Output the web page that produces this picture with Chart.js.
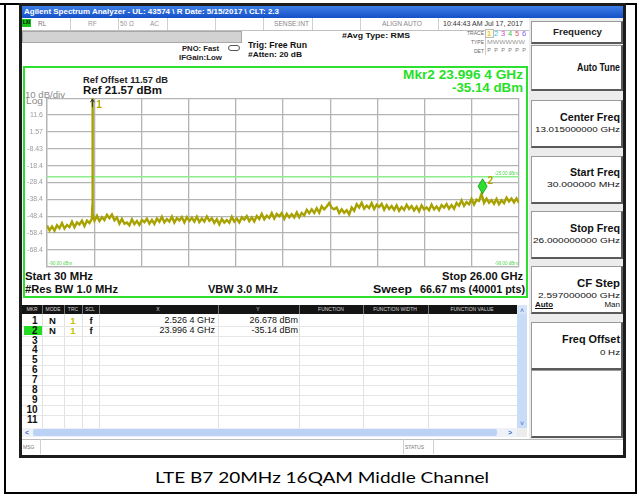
<!DOCTYPE html>
<html><head><meta charset="utf-8">
<script src="https://cdn.jsdelivr.net/npm/chart.js@4.4.1/dist/chart.umd.min.js"></script>
<style>
html,body{margin:0;padding:0;background:#fff;width:639px;height:496px;overflow:hidden;font-family:"Liberation Sans",Arial,sans-serif;position:relative;}
.a{position:absolute;box-sizing:border-box;}
.t{position:absolute;white-space:nowrap;}
#c{position:absolute;left:22px;top:90px;}
</style></head><body>
<script>
// ---------------- DATA ----------------
const startGHz = 0.03;
const stopGHz = 26.0;
const refLevelDbm = 21.57;
const dbPerDiv = 10;
const yTickLabels = ["", "11.6", "1.57", "-8.43", "-18.4", "-28.4", "-38.4", "-48.4", "-58.4", "-68.4", ""];
// trace levels (dBm), evenly spaced sweep points from start to stop
const traceLevels = [
-53.9,-56.8,-54.5,-57.0,-53.8,-55.6,-52.5,-55.8,-53.6,-54.9,-51.7,-55.0,-52.1,-53.3,-51.1,-54.3,-51.0,-52.5,-49.9,
-51.1,
-48.2,-51.3,-49.0,-50.7,-47.6,-49.6,-47.4,-50.8,-49.2,-52.8,-50.0,-52.9,-52.2,-53.8,-50.3,-53.1,-51.3,-53.6,-50.6,-52.0,
-49.9,-52.8,-50.6,-53.0,-49.8,-51.7,-48.8,-52.1,-50.1,-51.6,-48.7,-52.2,-49.6,-50.9,-48.9,-52.1,-49.0,-51.2,-49.4,-51.6,
-48.7,-51.9,-49.8,-51.6,-48.6,-51.2,-49.7,-52.4,-50.2,-53.3,-50.0,-52.2,-50.7,-52.3,-48.8,-51.6,-49.8,-52.1,-49.1,-50.5,
-48.4,-51.3,-49.1,-51.5,-48.3,-50.1,-47.0,-50.3,-48.1,-49.5,-46.5,-49.8,-47.1,-48.5,-46.6,-50.0,-47.0,-49.1,-47.2,-49.2,
-46.2,-49.1,-46.5,-48.0,-44.6,-46.6,-44.4,-46.5,-43.7,-46.3,-42.5,-44.4,-42.7,-40.6,-43.5,-44.3,-43.3,-46.5,-44.3,-46.4,
-44.9,-47.4,-43.3,-45.2,-41.3,-43.3,-40.5,-44.0,-42.1,-43.6,-40.7,-44.2,-41.6,-43.0,-41.1,-44.6,-41.8,-44.1,-42.4,-44.7,
-42.0,-45.2,-43.0,-44.7,-41.6,-44.1,-42.4,-45.0,-42.7,-45.5,-42.0,-44.4,-43.2,-44.9,-41.5,-44.4,-42.6,-44.8,-41.8,-43.3,
-41.2,-44.0,-41.8,-44.0,-40.6,-42.2,-39.0,-42.3,-40.1,-41.4,-38.2,-41.5,-38.6,-39.3,-35.1,-40.5,-38.0,-40.5,-38.9,-41.1,
-38.2,-41.3,-39.0,-40.6,-37.4,-39.7,-37.9,-40.3,-37.9,-40.5
];
// carrier (LTE B7 uplink) spike
const carrierFreqsGHz = [2.515, 2.5264, 2.540, 2.560];
const carrierLevels = [-46.0, 26.678, -37.5, -47.0];
const displayLineDbm = -25;
// markers
const markerNames = ["1", "2"];
const markerModes = ["N", "N"];
const markerTraces = ["1", "1"];
const markerScales = ["f", "f"];
const markerFreqsGHz = [2.5264, 23.9964];
const markerLevels = [26.678, -35.14];
const markerXText = ["2.526 4 GHz", "23.996 4 GHz"];
const markerYText = ["26.678 dBm", "-35.14 dBm"];

// ---------------- UI helpers ----------------
const root = document.body;
function box(x,y,w,h,css){const d=document.createElement('div');d.className='a';d.style.cssText=`left:${x}px;top:${y}px;width:${w}px;height:${h}px;`+(css||'');root.appendChild(d);return d;}
function txt(str,x,y,size,o){o=o||{};const d=document.createElement('div');d.className='t';d.textContent=str;
 d.style.fontSize=size+'px';d.style.lineHeight=size+'px';d.style.fontWeight=o.b?'bold':'normal';d.style.color=o.c||'#000';
 if(o.ff)d.style.fontFamily=o.ff; if(o.u)d.style.textDecoration='underline';
 d.style.left='0px';d.style.top=(y-size*0.5)+'px';root.appendChild(d);
 const w=d.getBoundingClientRect().width; const sc=o.w?o.w/w:1; const ww=w*sc;
 const left=o.al==='r'?x-ww:o.al==='c'?x-ww/2:x; d.style.left=left+'px';
 if(sc!==1){d.style.transform=`scaleX(${sc})`;d.style.transformOrigin='0 0';}
 return d;}

// outer table borders
box(4,3,633,491,'border:2px solid #000;');
box(0,3,20,2,'background:#000;');
// screenshot frame
box(19,3,607,455,'background:#1c1c1c;');
box(22,6,601,449,'background:#fff;');
// title bar
box(22,6,601,12,'background:linear-gradient(#3d7fe6,#1550c8);');
txt("Agilent Spectrum Analyzer - UL: 43574 \\ R Date: 5/15/2017 \\ CLT: 2.3",24,12.3,8,{b:1,c:'#fff',w:255});
// status row
box(22,18,507,13,'border-bottom:1px solid #c0c0c0;');
box(22,19,9,8,'background:#19c419;');
txt("LXI",26.5,23,4.5,{b:1,c:'#000',al:'c'});
[70,118,167,215,263,312,360,438].forEach(x=>box(x,18,1,12,'background:#cfcfcf;'));
txt("RL",38,24,6.5,{c:'#777'});
txt("RF",88,24,6.5,{c:'#999'});
txt("50 \u03A9",120,24,6.5,{c:'#999'});
txt("AC",150,24,6.5,{c:'#999'});
txt("SENSE:INT",309,24,6.5,{c:'#888',al:'r',w:35});
txt("ALIGN AUTO",422,24,6.5,{c:'#888',al:'r',w:40});
txt("10:44:43 AM Jul 17, 2017",523,24,6.5,{c:'#333',al:'r',w:80});
// gray bar
box(22,31,220,12,'background:#d2d2d2;border:1px solid #a8a8a8;');
txt("PNO: Fast",219,48,7,{b:1,c:'#222',al:'r',w:37});
txt("IFGain:Low",222,57,7,{b:1,c:'#222',al:'r',w:43});
box(228,45,12,6,'border:1px solid #555;border-radius:3px;');
txt("Trig: Free Run",248,45,8.5,{b:1,c:'#111',w:59});
txt("#Atten: 20 dB",248,55,7.5,{b:1,c:'#111',w:54});
txt("#Avg Type: RMS",342,36,8,{b:1,c:'#111',w:68});
txt("TRACE",484,33.5,5,{c:'#666',al:'r'});
txt("TYPE",484,42,5,{c:'#666',al:'r'});
txt("DET",484,51,5,{c:'#666',al:'r'});
box(485,29,43,26,'border-left:1px solid #ccc;');
const trColors=['#d6b400','#29c6e6','#d04fd0','#3cbf3c','#e0557a','#8a62ee'];
const trX=[489,496,503,510,517,524];
box(485,29,9,9,'border:1px solid #bbb;background:#fffbe0;');
trX.forEach((x,i)=>{txt(String(i+1),x,33.5,7.5,{c:trColors[i],al:'c'});txt('P',x,51,5.5,{c:'#777',al:'c'});});
txt("MWWWWW",487,42,5,{c:'#999',w:38});
// green graph frame
box(23,66,505,232,'border:2px solid #2ee02e;');
txt("Mkr2 23.996 4 GHz",523,74.5,13,{b:1,c:'#27df27',al:'r',w:120});
txt("-35.14 dBm",523,87.5,13,{b:1,c:'#27df27',al:'r',w:71});
txt("Ref Offset 11.57 dB",83,80.5,8.5,{b:1,c:'#222',w:85});
txt("Ref 21.57 dBm",83,90.5,11.5,{b:1,c:'#111',w:79});
txt("10 dB/div",25,95.5,8.5,{c:'#8a8a8a',w:40});
txt("Log",26,101.5,8.5,{c:'#8a8a8a',w:17});
txt("Start 30 MHz",25,276,11,{b:1,c:'#111',w:68});
txt("Stop 26.00 GHz",523,276,11,{b:1,c:'#111',al:'r',w:81});
txt("#Res BW 1.0 MHz",25,289,11,{b:1,c:'#111',w:93});
txt("VBW 3.0 MHz",208,289,11,{b:1,c:'#111',w:70});
txt("Sweep",373,289,11,{b:1,c:'#111',w:39});
txt("66.67 ms (40001 pts)",525,289,11,{b:1,c:'#111',al:'r',w:105});

// marker table
const colSep=[42,64,82,99,218,299,363,428];
box(22,305,495,9,'background:#141414;');
colSep.forEach(x=>{box(x,305,1,9,'background:#777;');box(x,314,1,114,'background:#e2e2e2;');});
[["MKR",32],["MODE",53],["TRC",73],["SCL",90],["X",158],["Y",258],["FUNCTION",331],["FUNCTION WIDTH",395],["FUNCTION VALUE",472]]
 .forEach(([str,x])=>txt(str,x,309.5,5,{c:'#d8d8d8',al:'c'}));
box(517,305,10,9,'background:#d6e4f8;');
txt("\u02C4",522,310,7,{c:'#3a6ec8',al:'c'});
const rowY=k=>320.7+k*9.93;
for(let k=0;k<11;k++){ if(k>0) box(22,rowY(k)-5,495,1,'background:#e6e6e6;'); }
box(24,rowY(1)-4.8,18,9.6,'background:#22dd22;');
for(let k=0;k<11;k++){ txt(String(k+1),37.5,rowY(k),10,{b:1,c:'#111',al:'r'}); }
markerNames.forEach((n,k)=>{
 txt(markerModes[k],52.5,rowY(k),9.5,{b:1,c:'#111',al:'c'});
 txt(markerTraces[k],73,rowY(k),9.5,{b:1,c:'#c9bf00',al:'c'});
 txt(markerScales[k],91,rowY(k),9.5,{b:1,c:'#111',al:'c'});
 txt(markerXText[k],215,rowY(k),9,{c:'#111',al:'r'});
 txt(markerYText[k],298,rowY(k),9,{c:'#111',al:'r'});
});
box(517,314,10,114,'background:#c8dcf8;');
txt("\u02C5",522,423,7,{c:'#3a6ec8',al:'c'});
box(22,428,495,9,'background:#eef2f8;');
box(33,429,464,7,'background:#bcd2f4;border-radius:2px;');
txt("<",27,432.5,7,{b:1,c:'#3a6ec8',al:'c'});
txt(">",510,432.5,7,{b:1,c:'#3a6ec8',al:'c'});
box(517,428,10,9,'background:#ececec;');
// MSG row
box(22,439,601,16,'border-top:1px solid #bdbdbd;background:#fff;');
[40,403,433].forEach(x=>box(x,439,1,15,'background:#d0d0d0;'));
txt("MSG",23,447,5,{c:'#777'});
txt("STATUS",405,447,5,{c:'#777'});

// soft keys
function key(y,h){box(531,y,92,h,'background:#fff;border:1px solid #9a9a9a;border-right:2px solid #5a5a5a;border-bottom:2px solid #5a5a5a;');}
box(529,18,94,421,'background:#ececec;');
key(21,23); key(45,46); key(100,48); key(156,48); key(211,48); key(266,48); key(322,48); key(370,68);
txt("Frequency",577,32.5,9,{b:1,c:'#222',al:'c',w:49});
txt("Auto Tune",620,68,10,{b:1,c:'#111',al:'r',w:43});
txt("Center Freq",620,118,10,{b:1,c:'#111',al:'r',w:60});
txt("13.015000000 GHz",620,129.5,8,{c:'#111',al:'r',w:85});
txt("Start Freq",620,173,10,{b:1,c:'#111',al:'r',w:50});
txt("30.000000 MHz",620,184.5,8,{c:'#111',al:'r',w:73});
txt("Stop Freq",620,229,10,{b:1,c:'#111',al:'r',w:50});
txt("26.000000000 GHz",620,240.5,8,{c:'#111',al:'r',w:87});
txt("CF Step",620,284,10,{b:1,c:'#111',al:'r',w:43});
txt("2.597000000 GHz",620,295.5,8,{c:'#111',al:'r',w:82});
txt("Auto",535,305,8,{b:1,c:'#111',u:1,w:18});
txt("Man",620,305,8,{c:'#111',al:'r'});
txt("Freq Offset",620,339.5,10,{b:1,c:'#111',al:'r',w:58});
txt("0 Hz",620,353,8,{c:'#111',al:'r',w:20});

// caption
txt("LTE B7 20MHz 16QAM Middle Channel",322,478,15.5,{c:'#000',ff:'Lato, "Open Sans", sans-serif',al:'c',w:334});

// ---------------- CHART ----------------
const cv=document.createElement('canvas');cv.id='c';cv.width=505;cv.height=185;root.appendChild(cv);

const nPts = traceLevels.length;
const sweepStep = (stopGHz-startGHz)/(nPts-1);
const tracePts = traceLevels.map((v,i)=>({x:startGHz+i*sweepStep,y:v}))
  .concat(carrierFreqsGHz.map((f,i)=>({x:f,y:carrierLevels[i]})))
  .sort((a,b)=>a.x-b.x);
const yMin = refLevelDbm - 10*dbPerDiv;
const yTickVals = yTickLabels.map((_,k)=>refLevelDbm-k*dbPerDiv).reverse();
const xGridVals = Array.from({length:11},(_,k)=>startGHz+k*(stopGHz-startGHz)/10);

const mkrPlugin = {id:'mkr', afterDatasetsDraw(ch){
  const c=ch.ctx, xs=ch.scales.x, ys=ch.scales.y, ca=ch.chartArea;
  c.save();
  const dl=ys.getPixelForValue(displayLineDbm);
  c.font='4.5px "Liberation Sans"'; c.fillStyle='#55d855'; c.textAlign='right'; c.textBaseline='bottom';
  c.fillText('-25.00 dBm', ca.right-1, dl-1);
  c.fillText('-90.00 dBm', ca.right-1, ca.bottom-1);
  c.textAlign='left'; c.fillText('-90.00 dBm', ca.left+2, ca.bottom-1);
  const px=xs.getPixelForValue(markerFreqsGHz[1]), py=ys.getPixelForValue(markerLevels[1]);
  c.beginPath(); c.moveTo(px,py); c.lineTo(px-4.5,py-7.5); c.lineTo(px,py-15); c.lineTo(px+4.5,py-7.5); c.closePath();
  c.fillStyle='#2ee02e'; c.fill(); c.strokeStyle='#109010'; c.lineWidth=0.8; c.stroke();
  c.fillStyle='#b2a800'; c.font='bold 10px "Liberation Sans"'; c.textAlign='left'; c.textBaseline='middle';
  c.fillText(markerNames[1], px+5, py-13);
  const p1=xs.getPixelForValue(markerFreqsGHz[0]);
  c.strokeStyle='#333'; c.lineWidth=1; c.beginPath(); c.moveTo(p1,ca.top+1); c.lineTo(p1,ca.top+9); c.stroke();
  c.beginPath(); c.moveTo(p1-2,ca.top+4); c.lineTo(p1,ca.top+1); c.lineTo(p1+2,ca.top+4); c.stroke();
  c.fillStyle='#b2a800'; c.fillText(markerNames[0], p1+4, ca.top+7);
  c.restore();
}};

new Chart(cv.getContext('2d'),{
  type:'line',
  data:{datasets:[
    {data:tracePts, borderColor:'#a8a200', borderWidth:2.4, pointRadius:0, tension:0, order:1},
    {data:[{x:startGHz,y:displayLineDbm},{x:stopGHz,y:displayLineDbm}], borderColor:'#8cee8c', borderWidth:1.5, pointRadius:0, order:2}
  ]},
  options:{
    responsive:false, animation:false, devicePixelRatio:1,
    layout:{padding:{top:7,right:8,bottom:7,left:0}},
    plugins:{legend:{display:false},tooltip:{enabled:false}},
    scales:{
      x:{type:'linear',min:startGHz,max:stopGHz,
         afterBuildTicks:sc=>{sc.ticks=xGridVals.map(v=>({value:v}));},
         ticks:{display:false},
         grid:{color:'#b4b4b4',lineWidth:1.3,drawTicks:false},
         border:{color:'#b4b4b4',width:1.3}},
      y:{type:'linear',min:yMin,max:refLevelDbm,
         afterBuildTicks:sc=>{sc.ticks=yTickVals.map(v=>({value:v}));},
         afterFit:sc=>{sc.width=25;},
         ticks:{autoSkip:false,padding:4,color:'#9c9c9c',font:{family:'"Liberation Sans"',size:7},
           callback:(v)=>yTickLabels[Math.round((refLevelDbm-v)/dbPerDiv)]},
         grid:{color:'#b4b4b4',lineWidth:1.3,drawTicks:false},
         border:{color:'#b4b4b4',width:1.3}}
    }
  },
  plugins:[mkrPlugin]
});
</script>
</body></html>
